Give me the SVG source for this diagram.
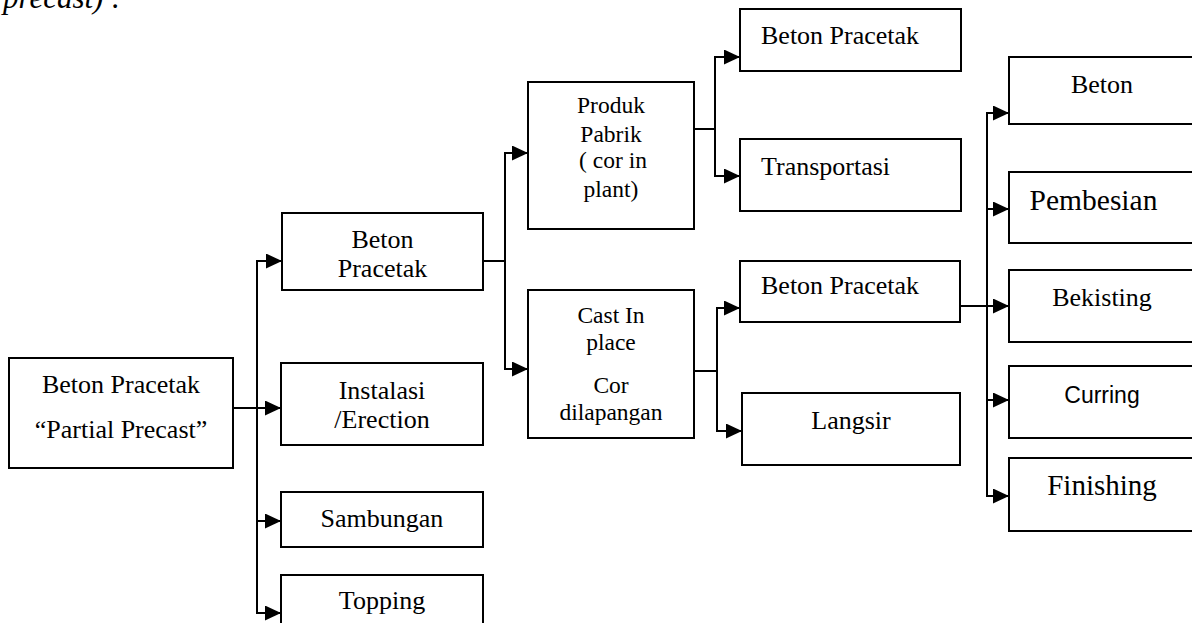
<svg xmlns="http://www.w3.org/2000/svg" width="1192" height="623" viewBox="0 0 1192 623">
<style>
  .box { fill: #ffffff; stroke: #000000; stroke-width: 2; }
  .t { font-family: "Liberation Serif", "Times New Roman", serif; fill: #000000; }
  .c { text-anchor: middle; }
  .s26 { font-size: 26px; }
  .s23 { font-size: 23.5px; }
  .sans { font-family: "Liberation Sans", Arial, sans-serif; font-size: 23px; fill: #000000; text-anchor: middle; }
  .conn { fill: none; stroke: #000000; stroke-width: 2; marker-end: url(#arrow); }
</style>
<defs>
  <marker id="arrow" markerUnits="userSpaceOnUse" markerWidth="16" markerHeight="15" refX="16" refY="7.5" orient="auto">
    <path d="M0,0 L16,7.5 L0,15 Z" fill="#000000"/>
  </marker>
</defs>
<rect width="1192" height="623" fill="#ffffff"/>
<text class="t" x="3" y="8" font-size="31" font-style="italic">precast) :</text>

<g id="connectors">
  <path class="conn" d="M233,408 H257 V261 H282"/>
  <path class="conn" d="M233,408 H281"/>
  <path class="conn" d="M233,408 H257 V521 H281"/>
  <path class="conn" d="M233,408 H257 V613 H281"/>
  <path class="conn" d="M483,261 H505 V153 H528"/>
  <path class="conn" d="M483,261 H505 V369 H528"/>
  <path class="conn" d="M694,129 H715 V57 H740"/>
  <path class="conn" d="M694,129 H715 V176 H740"/>
  <path class="conn" d="M694,371 H717 V308 H740"/>
  <path class="conn" d="M694,371 H717 V431 H742"/>
  <path class="conn" d="M960,306 H987 V113 H1009"/>
  <path class="conn" d="M960,306 H987 V209 H1009"/>
  <path class="conn" d="M960,306 H1009"/>
  <path class="conn" d="M960,306 H987 V400 H1009"/>
  <path class="conn" d="M960,306 H987 V496 H1009"/>
</g>

<g id="root">
  <rect class="box" x="9" y="358" width="224" height="110"/>
  <text class="t c s26" x="121" y="393">Beton Pracetak</text>
  <text class="t c s26" x="121" y="438">“Partial Precast”</text>
</g>
<g id="beton-pracetak-1">
  <rect class="box" x="282" y="213" width="201" height="77"/>
  <text class="t c s26" x="382.5" y="248">Beton</text>
  <text class="t c s26" x="382.5" y="277">Pracetak</text>
</g>
<g id="instalasi">
  <rect class="box" x="281" y="363" width="202" height="82"/>
  <text class="t c s26" x="382" y="399">Instalasi</text>
  <text class="t c s26" x="382" y="428">/Erection</text>
</g>
<g id="sambungan">
  <rect class="box" x="281" y="492" width="202" height="55"/>
  <text class="t c s26" x="382" y="527">Sambungan</text>
</g>
<g id="topping">
  <rect class="box" x="281" y="575" width="202" height="60"/>
  <text class="t c s26" x="382" y="609">Topping</text>
</g>
<g id="produk-pabrik">
  <rect class="box" x="528" y="82" width="166" height="147"/>
  <text class="t c s23" x="611" y="113">Produk</text>
  <text class="t c s23" x="611" y="142">Pabrik</text>
  <text class="t c s23" x="613" y="168" xml:space="preserve">( cor in</text>
  <text class="t c s23" x="611" y="197">plant)</text>
</g>
<g id="cast-in-place">
  <rect class="box" x="528" y="290" width="166" height="148"/>
  <text class="t c s23" x="611" y="323">Cast In</text>
  <text class="t c s23" x="611" y="350">place</text>
  <text class="t c s23" x="611" y="393">Cor</text>
  <text class="t c s23" x="611" y="420">dilapangan</text>
</g>
<g id="beton-pracetak-2">
  <rect class="box" x="740" y="9" width="221" height="62"/>
  <text class="t s26" x="761" y="44">Beton Pracetak</text>
</g>
<g id="transportasi">
  <rect class="box" x="740" y="139" width="221" height="72"/>
  <text class="t s26" x="761" y="175">Transportasi</text>
</g>
<g id="beton-pracetak-3">
  <rect class="box" x="740" y="261" width="220" height="61"/>
  <text class="t s26" x="761" y="294">Beton Pracetak</text>
</g>
<g id="langsir">
  <rect class="box" x="742" y="393" width="218" height="72"/>
  <text class="t c s26" x="851" y="429">Langsir</text>
</g>
<g id="beton">
  <rect class="box" x="1009" y="57" width="190" height="67"/>
  <text class="t c s26" x="1102" y="93">Beton</text>
</g>
<g id="pembesian">
  <rect class="box" x="1009" y="172" width="190" height="71"/>
  <text class="t c" x="1093.5" y="210" font-size="29.5">Pembesian</text>
</g>
<g id="bekisting">
  <rect class="box" x="1009" y="270" width="190" height="72"/>
  <text class="t c s26" x="1102" y="306">Bekisting</text>
</g>
<g id="curring">
  <rect class="box" x="1009" y="366" width="190" height="72"/>
  <text class="sans" x="1102" y="403">Curring</text>
</g>
<g id="finishing">
  <rect class="box" x="1009" y="458" width="190" height="73"/>
  <text class="t c" x="1102" y="495" font-size="29">Finishing</text>
</g>
</svg>
